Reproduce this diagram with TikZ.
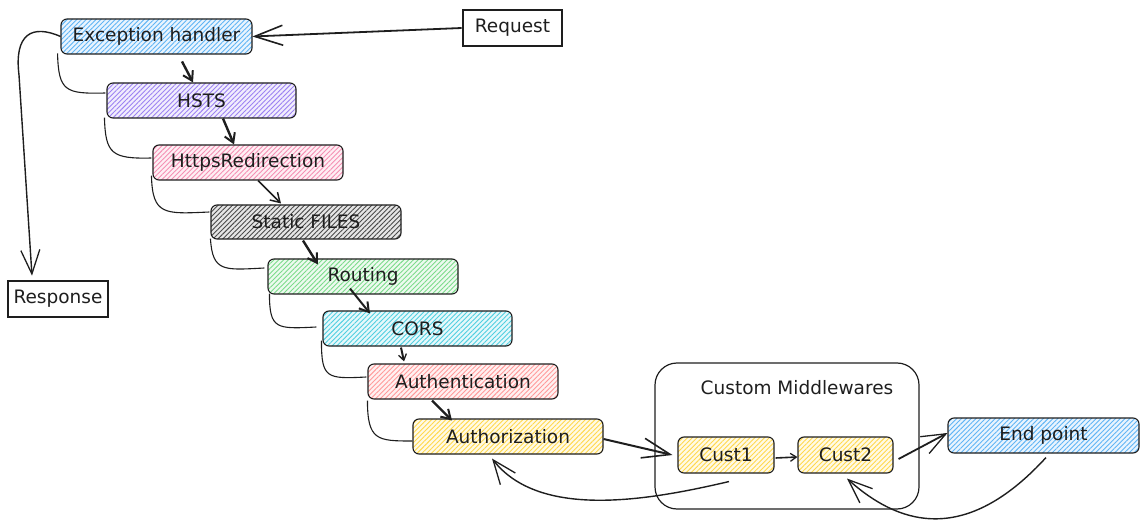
\documentclass[tikz,border=0pt]{standalone}
\usepackage{fontspec}
\setmainfont{DejaVu Sans}
\usetikzlibrary{arrows.meta,patterns.meta}
\definecolor{ink}{HTML}{1E1E1E}
\definecolor{cblue}{HTML}{5FB4F5}
\definecolor{cpurple}{HTML}{9C82F2}
\definecolor{cpink}{HTML}{F58FB3}
\definecolor{cgray}{HTML}{4A4A4A}
\definecolor{cgreen}{HTML}{7BDB8A}
\definecolor{ccyan}{HTML}{4FCFE0}
\definecolor{cred}{HTML}{FF9A9A}
\definecolor{cyellow}{HTML}{FFD84D}
\begin{document}
\begin{tikzpicture}[x=1pt,y=-1pt,
  font=\fontsize{18.5}{21}\selectfont,
  box/.style={draw=ink, line width=1.1pt, rounded corners=6pt, inner sep=0pt, text=ink, minimum height=35pt, minimum width=190pt},
  hatch/.style={preaction={fill=#1!14}, pattern={Lines[angle=45,distance=3.4pt,line width=0.9pt]}, pattern color=#1},
  plainbox/.style={draw=ink, line width=2.6pt, fill=white, inner sep=0pt, text=ink, minimum height=36pt},
  ret/.style={draw=ink, line width=1.1pt},
  bigarr/.style={draw=ink, line width=1.8pt, -{Straight Barb[length=28pt,width=20pt,line width=1.6pt]}},
  midarr/.style={draw=ink, line width=1.4pt, -{Straight Barb[length=24pt,width=19pt,line width=1.3pt]}},
  smallarr/.style={draw=ink, line width=2.4pt, -{Straight Barb[length=9pt,width=11pt,line width=2pt]}},
  tinyarr/.style={draw=ink, line width=1.6pt, -{Straight Barb[length=6pt,width=8pt,line width=1.3pt]}}
]
\useasboundingbox (0,0) rectangle (1146,529);

% stages
\node[box, hatch=cblue, minimum width=191pt] (eh) at (156.5,36.5) {Exception handler};
\node[box, hatch=cpurple, minimum width=189pt] (hsts) at (201.5,100.5) {HSTS};
\node[box, hatch=cpink] (https) at (248,162.5) {HttpsRedirection};
\node[box, hatch=cgray, minimum height=34pt] (static) at (306,222) {Static FILES};
\node[box, hatch=cgreen] (routing) at (363,276.5) {Routing};
\node[box, hatch=ccyan, minimum width=189pt] (cors) at (417.5,328.5) {CORS};
\node[box, hatch=cred] (authn) at (463,381.5) {Authentication};
\node[box, hatch=cyellow] (authz) at (508,436.5) {Authorization};

% request / response
\node[plainbox, minimum width=99pt] (req) at (512.5,28) {Request};
\node[plainbox, minimum width=100pt] (resp) at (58,299) {Response};

% custom middlewares
\node[draw=ink, line width=1.2pt, rounded corners=22pt, minimum width=264pt, minimum height=146pt, inner sep=0pt] (cm) at (787,436) {};
\node[text=ink, inner sep=0pt] (cmlabel) at (797,388) {Custom Middlewares};
\node[box, hatch=cyellow, minimum width=96pt, minimum height=36pt] (c1) at (726,455) {Cust1};
\node[box, hatch=cyellow, minimum width=95pt, minimum height=36pt] (c2) at (845.5,455) {Cust2};
\node[box, hatch=cblue, minimum width=191pt] (ep) at (1043.5,435.5) {End point};

% main arrows
\draw[bigarr] (req.west) -- (eh.east);
\draw[smallarr] ([shift={(25.5,7)}]eh.south) -- ([shift={(-8.5,0)}]hsts.north);
\draw[smallarr] ([shift={(21.5,0)}]hsts.south) -- ([shift={(-14,0)}]https.north);
\draw[draw=ink, line width=1.5pt, -{Straight Barb[length=9pt,width=11pt,line width=1.5pt]}] ([shift={(10,0)}]https.south) -- ([shift={(-25,-1)}]static.north);
\draw[smallarr] ([shift={(-3,1)}]static.south) -- ([shift={(-45,6)}]routing.north);
\draw[smallarr, line width=2pt] ([shift={(-13,-6)}]routing.south) -- ([shift={(-47.5,3)}]cors.north);
\draw[tinyarr, line width=2pt] ([shift={(-16.5,1)}]cors.south) -- ([shift={(-59,-2)}]authn.north);
\draw[smallarr] ([shift={(-31,1)}]authn.south) -- ([shift={(-56,2)}]authz.north);
\draw[bigarr, line width=2pt] ([shift={(0,2.5)}]authz.east) -- ([shift={(-5,0)}]c1.west);
\draw[tinyarr] ([shift={(1,3)}]c1.east) -- ([shift={(0,2)}]c2.west);
\draw[midarr, line width=1.8pt] ([shift={(5,4)}]c2.east) -- ([shift={(0,-2.5)}]ep.west);

% return curves
\draw[midarr] ([shift={(2.5,4)}]ep.south) .. controls (975,535) and (910,535) .. ([shift={(1.5,5)}]c2.south);
\draw[midarr] ([shift={(3,8)}]c1.south) .. controls (650,500) and (540,520) .. ([shift={(-16,4)}]authz.south);
\draw[midarr] (eh.west) .. controls (32,24) and (14,34) .. (19,75) -- ([shift={(-26,-4)}]resp.north);

% back lines between stages
\draw[ret] ([shift={(-3,-1)}]eh.south west) .. controls +(1,38) and +(-40,1) .. ([shift={(-1,-7.5)}]hsts.west);
\draw[ret] ([shift={(-2,-1)}]hsts.south west) .. controls +(1,36) and +(-40,1) .. ([shift={(-1,-4.5)}]https.west);
\draw[ret] ([shift={(-1,-5)}]https.south west) .. controls +(1,40) and +(-45,2) .. ([shift={(-1,-10)}]static.west);
\draw[ret] ([shift={(0,-1)}]static.south west) .. controls +(2,34) and +(-40,2) .. ([shift={(-3,-8.5)}]routing.west);
\draw[ret] ([shift={(2,-1)}]routing.south west) .. controls +(0,36) and +(-40,2) .. ([shift={(-6,-1.5)}]cors.west);
\draw[ret] ([shift={(-1,-6)}]cors.south west) .. controls +(0,38) and +(-40,2) .. ([shift={(-1,-4.5)}]authn.west);
\draw[ret] ([shift={(0,1)}]authn.south west) .. controls +(0,40) and +(-35,0) .. ([shift={(0,4.5)}]authz.west);
\end{tikzpicture}
\end{document}
